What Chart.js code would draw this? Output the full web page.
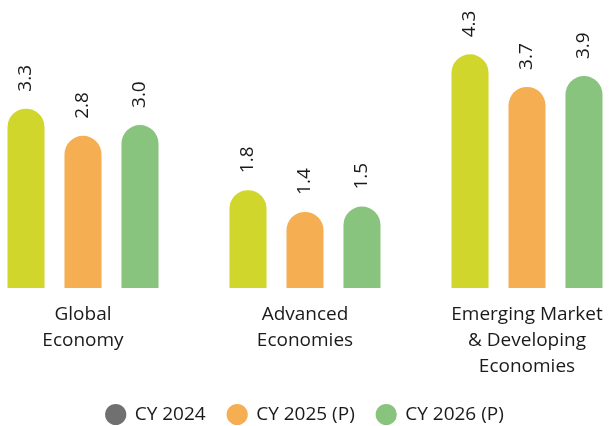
<!DOCTYPE html>
<html>
<head>
<meta charset="utf-8">
<script src="https://cdn.jsdelivr.net/npm/chart.js@4/dist/chart.umd.min.js"></script>
<style>
  html, body { margin: 0; padding: 0; background: #fff; overflow: hidden; }
  #wrap { position: absolute; left: -28px; top: 0; width: 666px; height: 434px; }
</style>
</head>
<body>
<div id="wrap"><canvas id="growthChart"></canvas></div>
<script>
// categories and values
const categories = [['Global', 'Economy'], ['Advanced', 'Economies'], ['Emerging Market', '& Developing', 'Economies']];
const cy2024 = [3.3, 1.8, 4.3];
const cy2025 = [2.8, 1.4, 3.7];
const cy2026 = [3.0, 1.5, 3.9];
const seriesNames = ['CY 2024', 'CY 2025 (P)', 'CY 2026 (P)'];

const FONT = '"Open Sans", sans-serif';

// rotated value labels above each bar
const valueLabels = {
    id: 'valueLabels',
    afterDatasetsDraw(chart) {
        const ctx = chart.ctx;
        ctx.save();
        ctx.font = '19px ' + FONT;
        ctx.fillStyle = '#1a1a1a';
        ctx.textAlign = 'left';
        ctx.textBaseline = 'middle';
        chart.data.datasets.forEach((ds, i) => {
            chart.getDatasetMeta(i).data.forEach((bar, j) => {
                ctx.save();
                ctx.translate(bar.x, bar.y - 17);
                ctx.rotate(-Math.PI / 2);
                ctx.fillText(ds.data[j].toFixed(1), 0, 0);
                ctx.restore();
            });
        });
        ctx.restore();
    }
};

const ctx = document.getElementById('growthChart').getContext('2d');
new Chart(ctx, {
    type: 'bar',
    data: {
        labels: categories,
        datasets: [
            { label: seriesNames[0], data: cy2024, backgroundColor: '#d0d62c' },
            { label: seriesNames[1], data: cy2025, backgroundColor: '#f5ae52' },
            { label: seriesNames[2], data: cy2026, backgroundColor: '#88c47d' }
        ]
    },
    options: {
        responsive: true,
        maintainAspectRatio: false,
        animation: false,
        datasets: {
            bar: {
                categoryPercentage: 0.77,
                barPercentage: 0.65,
                borderRadius: { topLeft: 20, topRight: 20 },
                borderSkipped: 'bottom'
            }
        },
        layout: { padding: 0 },
        plugins: {
            tooltip: { enabled: false },
            legend: {
                position: 'bottom',
                labels: {
                    usePointStyle: true,
                    pointStyle: 'circle',
                    boxHeight: 15,
                    padding: 22,
                    color: '#1a1a1a',
                    font: { family: FONT, size: 19 },
                    generateLabels(chart) {
                        const items = Chart.defaults.plugins.legend.labels.generateLabels(chart);
                        // the first legend dot is grey in the original
                        items[0].fillStyle = '#707070';
                        items[0].strokeStyle = '#707070';
                        items.forEach(it => { it.lineWidth = 0; });
                        return items;
                    }
                }
            }
        },
        scales: {
            x: {
                grid: { display: false },
                border: { display: false },
                ticks: {
                    color: '#1a1a1a',
                    padding: 6,
                    font: { family: FONT, size: 19, lineHeight: 1.37 },
                    maxRotation: 0
                },
                afterFit(scale) { scale.height = 95; }
            },
            y: {
                display: false,
                min: 0,
                max: 5.3
            }
        }
    },
    plugins: [valueLabels]
});
</script>
</body>
</html>
